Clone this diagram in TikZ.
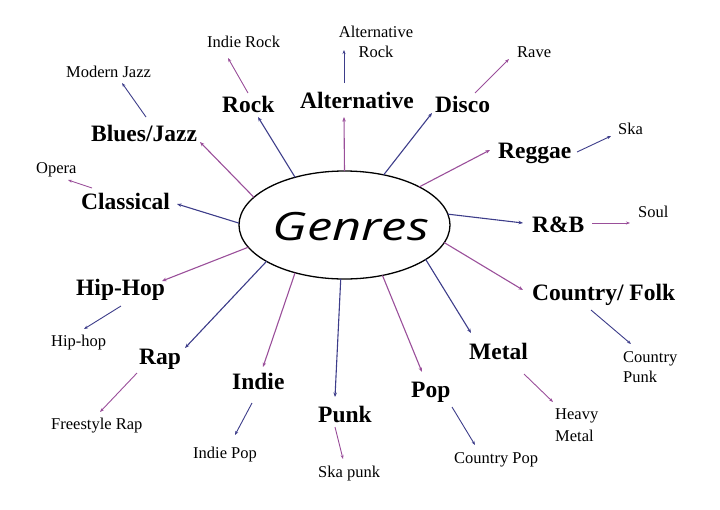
\documentclass[tikz,border=0pt]{standalone}
\usepackage{fontspec}
\setmainfont{Liberation Serif}
\newfontfamily\genfont{Open Sans}
\usetikzlibrary{arrows.meta,shapes.geometric}
\definecolor{cblue}{HTML}{3D3D8A}
\definecolor{cpurp}{HTML}{9A4F9A}
\tikzset{
  big/.style={font=\bfseries\fontsize{23.5}{26}\selectfont, inner sep=0pt, anchor=base west},
  small/.style={font=\fontsize{16.5}{20}\selectfont, inner sep=0pt, anchor=base west},
  link/.style={line width=1.1pt, -{Stealth[length=4.5pt,width=3.5pt]}},
  sublink/.style={line width=0.9pt, -{Stealth[length=4pt,width=3pt]}},
  bl/.style={cblue}, pu/.style={cpurp}
}
\begin{document}
\begin{tikzpicture}[x=1pt,y=-1pt]
\useasboundingbox (0,0) rectangle (720,509);
% central ellipse
\node[ellipse, draw, line width=1.3pt, minimum width=211pt, minimum height=108pt, inner sep=0pt, outer sep=0pt] (g) at (344.5,225) {};
\node[anchor=base, inner sep=0pt] (gt) at (351,240) {\scalebox{1.3}[1]{\genfont\itshape\fontsize{39}{41}\selectfont Genres}};

% main labels
\node[big] (rock) at (222,112) {Rock};
\node[big] (alt) at (300,108) {Alternative};
\node[big] (disco) at (435,112) {Disco};
\node[big] (blues) at (91,141) {Blues/Jazz};
\node[big] (class) at (81,209) {Classical};
\node[big] (reggae) at (498,158) {Reggae};
\node[big] (rnb) at (532,232) {R\&B};
\node[big] (country) at (532,300) {Country/ Folk};
\node[big] (metal) at (469,359) {Metal};
\node[big] (pop) at (411,397) {Pop};
\node[big] (punk) at (318,422) {Punk};
\node[big] (indie) at (232,389) {Indie};
\node[big] (rap) at (139,364) {Rap};
\node[big] (hiphop) at (76,295) {Hip-Hop};

% sub labels (multi-line nodes: base = baseline of last line)
\node[small] (indierock) at (207,47) {Indie Rock};
\node[small] (modjazz) at (66,77) {Modern Jazz};
\node[small] (opera) at (36,173) {Opera};
\node[small, anchor=base, align=center] (altrock) at (376,57) {Alternative\\Rock};
\node[small] (rave) at (517,57) {Rave};
\node[small] (ska) at (618,134) {Ska};
\node[small] (soul) at (638,217) {Soul};
\node[small, align=left] (cpunk) at (623,382) {Country\\Punk};
\node[small, align=left, font=\fontsize{16.5}{21.5}\selectfont] (heavy) at (555,441) {Heavy\\Metal};
\node[small] (cpop) at (454,463) {Country Pop};
\node[small] (skapunk) at (318,477) {Ska punk};
\node[small] (indiepop) at (193,458) {Indie Pop};
\node[small] (free) at (51,429) {Freestyle Rap};
\node[small] (hhop) at (51,346) {Hip-hop};

% tip coordinates for main connectors
\coordinate (tRock) at (258,117);
\coordinate (tAlt) at (344,117);
\coordinate (tDisco) at (432,113);
\coordinate (tReggae) at (490,150);
\coordinate (tRnb) at (523,223);
\coordinate (tCountry) at (523,290);
\coordinate (tMetal) at (471,333);
\coordinate (tPop) at (422,372);
\coordinate (tPunk) at (335,397);
\coordinate (tIndie) at (263,367);
\coordinate (tRap) at (185,348);
\coordinate (tHip) at (162,281);
\coordinate (tClass) at (177,204);
\coordinate (tBlues) at (200,142);

\draw[link,bl] (g.136) -- (tRock);
\draw[link,pu] (g.90) -- (tAlt);
\draw[link,bl] (g.52) -- (tDisco);
\draw[link,pu] (g.27) -- (tReggae);
\draw[link,bl] (g.6) -- (tRnb);
\draw[link,pu] (g.-10) -- (tCountry);
\draw[link,bl] (g.-23) -- (tMetal);
\draw[link,pu] (g.-53) -- (tPop);
\draw[link,bl] (g.-94.5) -- (tPunk);
\draw[link,pu] (g.-136) -- (tIndie);
\draw[link,bl] (g.-155) -- (tRap);
\draw[link,pu] (g.-167) -- (tHip);
\draw[link,bl] (g.179) -- (tClass);
\draw[link,pu] (g.163.5) -- (tBlues);

% sub connectors
\coordinate (sMJ) at (146,117); \coordinate (eMJ) at (122,83);
\coordinate (sIR) at (248,93);  \coordinate (eIR) at (228,58);
\coordinate (sAR) at (344,83);  \coordinate (eAR) at (344,50);
\coordinate (sRv) at (475,93);  \coordinate (eRv) at (509,59);
\coordinate (sSk) at (577,152); \coordinate (eSk) at (611,136);
\coordinate (sSo) at (592,223); \coordinate (eSo) at (630,223);
\coordinate (sCP) at (591,310); \coordinate (eCP) at (631,344);
\coordinate (sHM) at (524,374); \coordinate (eHM) at (553,402);
\coordinate (sCo) at (452,407); \coordinate (eCo) at (475,445);
\coordinate (sSP) at (335,427); \coordinate (eSP) at (343,459);
\coordinate (sIP) at (252,403); \coordinate (eIP) at (235,435);
\coordinate (sFR) at (137,373); \coordinate (eFR) at (100,412);
\coordinate (sHh) at (121,306); \coordinate (eHh) at (84,329);
\coordinate (sOp) at (92,188);  \coordinate (eOp) at (68,180);

\draw[sublink,bl] (sMJ) -- (eMJ);
\draw[sublink,pu] (sIR) -- (eIR);
\draw[sublink,bl] (sAR) -- (eAR);
\draw[sublink,pu] (sRv) -- (eRv);
\draw[sublink,bl] (sSk) -- (eSk);
\draw[sublink,pu] (sSo) -- (eSo);
\draw[sublink,bl] (sCP) -- (eCP);
\draw[sublink,pu] (sHM) -- (eHM);
\draw[sublink,bl] (sCo) -- (eCo);
\draw[sublink,pu] (sSP) -- (eSP);
\draw[sublink,bl] (sIP) -- (eIP);
\draw[sublink,pu] (sFR) -- (eFR);
\draw[sublink,bl] (sHh) -- (eHh);
\draw[sublink,pu] (sOp) -- (eOp);
\end{tikzpicture}
\end{document}
